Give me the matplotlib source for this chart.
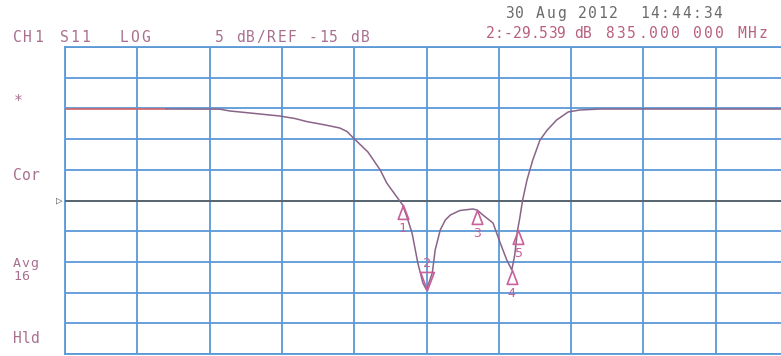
import numpy as np
import matplotlib
matplotlib.use("Agg")
import matplotlib.pyplot as plt
from matplotlib.path import Path

# === SETTINGS ===
START_MHZ = 785.0
STOP_MHZ = 885.0
REF_DB = -15.0
DB_PER_DIV = 5.0

# S11 trace (MHz, dB)
freq = [785.0, 799.0, 806.4, 807.8, 810.6, 814.7, 816.8, 818.5, 821.0, 823.0,
        824.0, 825.1, 826.9, 828.6, 829.5, 830.9, 831.7, 832.3, 833.0, 833.8,
        834.5, 835.0, 835.8, 836.2, 836.9, 837.6, 838.3, 839.6, 841.4, 842.0,
        842.8, 844.2, 845.2, 846.1, 846.8, 847.2, 847.6, 847.9, 848.3, 848.9,
        849.7, 850.7, 851.7, 853.0, 854.6, 856.2, 859.0, 885.0]
s11 = [-0.10, -0.10, -0.12, -0.42, -0.75, -1.24, -1.65, -2.16, -2.70, -3.19,
       -3.76, -5.06, -7.10, -10.03, -12.15, -14.43, -15.73, -17.69, -20.29, -25.18,
       -28.44, -29.539, -26.81, -23.06, -19.80, -18.18, -17.36, -16.63, -16.38, -16.55,
       -17.36, -18.67, -21.92, -24.69, -26.30, -23.90, -19.80, -17.85, -14.92, -11.66,
       -8.40, -5.14, -3.52, -1.89, -0.58, -0.26, -0.10, -0.10]

# markers
mk_num = ["1", "2", "3", "4", "5"]
mk_freq = [831.7, 835.0, 842.0, 846.8, 847.6]
mk_db = [-15.73, -29.539, -16.55, -26.30, -19.80]
ACTIVE = "2"

GRID = "#5b9ad6"
TRACE = "#8a6488"
MARK = "#c8609a"
LABEL = "#a8708e"
READOUT = "#b8607e"
DATE = "#6a6a6a"

plt.rcParams["font.family"] = "DejaVu Sans Mono"

fig = plt.figure(figsize=(7.81, 3.56), dpi=100)
fig.patch.set_facecolor("white")

W, H = 781.0, 356.0
x0, x1 = 65.0, 788.0
y_top, y_bot = 47.0, 354.0
ax = fig.add_axes([x0 / W, 1 - y_bot / H, (x1 - x0) / W, (y_bot - y_top) / H])

top_db = REF_DB + 5 * DB_PER_DIV
bot_db = REF_DB - 5 * DB_PER_DIV
ax.set_xlim(START_MHZ, STOP_MHZ)
ax.set_ylim(bot_db, top_db)
ax.set_xticks(np.linspace(START_MHZ, STOP_MHZ, 11))
ax.set_yticks(np.arange(bot_db, top_db + 0.1, DB_PER_DIV))
ax.tick_params(length=0, labelbottom=False, labelleft=False)
ax.grid(True, color=GRID, linewidth=1.3)
for sp in ax.spines.values():
    sp.set_color(GRID)
    sp.set_linewidth(1.3)

# reference line
ax.axhline(REF_DB, color="#555555", linewidth=1.1, zorder=3)

f = np.array(freq)
d = np.array(s11)
left = f <= 799.0
ax.plot(f[left], d[left], color="#d46464", linewidth=1.2, zorder=4)
ax.plot(f[f >= 799.0], d[f >= 799.0], color=TRACE, linewidth=1.1, zorder=4)

# marker symbols: apex sits on the trace
up_tri = Path([(0, 0), (-0.38, -1), (0.38, -1), (0, 0)],
              [Path.MOVETO, Path.LINETO, Path.LINETO, Path.CLOSEPOLY])
down_tri = Path([(0, 0), (-0.38, 1), (0.38, 1), (0, 0)],
                [Path.MOVETO, Path.LINETO, Path.LINETO, Path.CLOSEPOLY])

for n, mf, md in zip(mk_num, mk_freq, mk_db):
    if n == ACTIVE:
        ax.plot(mf, md, marker=down_tri, markersize=26, markerfacecolor="none",
                markeredgecolor=MARK, markeredgewidth=1.2, zorder=5)
        ax.annotate(n, (mf, md), xytext=(0, 19), textcoords="offset points",
                    ha="center", va="center", color=MARK, fontsize=9.5)
    else:
        ax.plot(mf, md, marker=up_tri, markersize=20, markerfacecolor="none",
                markeredgecolor=MARK, markeredgewidth=1.2, zorder=5)
        ax.annotate(n, (mf, md), xytext=(0, -17), textcoords="offset points",
                    ha="center", va="center", color=MARK, fontsize=9.5)


# === TEXT (fixed pitch screen font) ===
def put(x, y, s, color=LABEL, pitch=10.4, size=10.5):
    for i, ch in enumerate(s):
        if ch == " ":
            continue
        fig.text((x + i * pitch) / W, 1 - y / H, ch, color=color,
                 fontsize=size, ha="left", va="baseline")


put(505, 18, "30 Aug 2012  14:44:34", color=DATE)
put(13, 42, "CH1")
put(60, 42, "S11")
put(120, 42, "LOG")
put(215, 42, "5 dB/REF -15 dB")
put(486, 38, "2:-29.539 dB", color=READOUT, pitch=8.8, size=10.5)
put(605, 38, "835.000 000 MHz", color=READOUT, pitch=11.0)

put(14, 106, "*", size=10.5)
put(13, 180, "Cor", pitch=8.6)
put(13, 267, "Avg", pitch=8.6, size=9.5)
put(13, 280, "16", pitch=8.6, size=9.5)
put(13, 343, "Hld", pitch=8.6)

# reference position arrow
fig.text(56 / W, 1 - 201 / H, "\u25b7", color="#666666", fontsize=8,
         ha="left", va="center")

fig.savefig("out.png", dpi=100)
